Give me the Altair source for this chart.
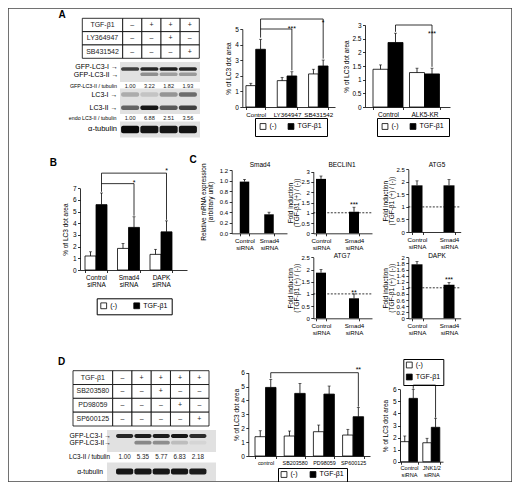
import altair as alt
import pandas as pd

W, H = 504, 474
M = 8
FONT = "Liberation Sans"
TRT = ["(-)", "TGF-β1"]
ONE = pd.DataFrame({"k": [0]})

# ---------------- data : panel A ----------------
a_table_rows = ["TGF-β1", "LY364947", "SB431542"]
a_table = [["–", "+", "+", "+"], ["–", "–", "+", "–"], ["–", "–", "–", "+"]]
a_gfp_bands = ["GFP-LC3-I", "GFP-LC3-II"]
a_gfp_level = [[0.72, 0.85, 0.9, 0.85], [0.0, 0.35, 0.28, 0.3]]
a_gfp_ratio = ["1.00", "3.22", "1.82", "1.93"]
a_lc3_bands = ["LC3-I", "LC3-II"]
a_lc3_level = [[0.22, 0.12, 0.32, 0.5], [0.55, 0.95, 0.6, 0.72]]
a_endo_ratio = ["1.00", "6.88", "2.51", "3.56"]
a_tub_bands = ["tubulin"]
a_tub_level = [[1.0, 0.96, 0.95, 0.96]]

a1_groups = ["Control", "LY364947", "SB431542"]
a1_neg = [1.37, 1.69, 2.12]
a1_neg_err = [0.15, 0.21, 0.30]
a1_pos = [3.70, 1.99, 2.63]
a1_pos_err = [0.64, 0.27, 0.38]
a1_brackets = [
    [("Control", 4.45), ("Control", 5.64), ("SB431542", 5.64), ("SB431542", 3.10)],
    [("Control", 5.00), ("LY364947", 5.00), ("LY364947", 2.35)],
]
a1_stars = [("LY364947", 5.15, "***"), ("SB431542", 5.51, "*")]

a2_groups = ["Control", "ALK5-KR"]
a2_neg = [1.38, 1.26]
a2_neg_err = [0.16, 0.16]
a2_pos = [2.36, 1.21]
a2_pos_err = [0.34, 0.21]
a2_brackets = [[("Control", 2.75), ("Control", 3.0), ("ALK5-KR", 3.0), ("ALK5-KR", 1.47)]]
a2_stars = [("ALK5-KR", 2.76, "***")]

# ---------------- data : panel B ----------------
b_groups = ["Control siRNA", "Smad4 siRNA", "DAPK siRNA"]
b_neg = [1.20, 1.85, 1.34]
b_neg_err = [0.36, 0.43, 0.43]
b_pos = [5.60, 3.65, 3.27]
b_pos_err = [1.00, 0.91, 0.94]
b_brackets = [
    [("Control siRNA", 6.7), ("Control siRNA", 8.3), ("DAPK siRNA", 8.3), ("DAPK siRNA", 4.3)],
    [("Control siRNA", 7.4), ("Smad4 siRNA", 7.4), ("Smad4 siRNA", 4.65)],
]
b_stars = [("Smad4 siRNA", 7.62, "*"), ("DAPK siRNA", 8.63, "*")]

# ---------------- data : panel C ----------------
c_groups = ["Control siRNA", "Smad4 siRNA"]
c_smad4 = [0.98, 0.36]
c_smad4_err = [0.04, 0.04]
c_beclin1 = [2.65, 1.05]
c_beclin1_err = [0.14, 0.22]
c_atg5 = [1.86, 1.86]
c_atg5_err = [0.18, 0.23]
c_atg7 = [1.87, 0.82]
c_atg7_err = [0.13, 0.18]
c_dapk = [1.77, 1.10]
c_dapk_err = [0.09, 0.07]

# ---------------- data : panel D ----------------
d_table_rows = ["TGF-β1", "SB203580", "PD98059", "SP600125"]
d_table = [["–", "+", "+", "+", "+"], ["–", "–", "+", "–", "–"],
           ["–", "–", "–", "+", "–"], ["–", "–", "–", "–", "+"]]
d_gfp_bands = ["GFP-LC3-I", "GFP-LC3-II"]
d_gfp_level = [[0.85, 0.9, 0.9, 0.95, 0.82], [0.0, 0.38, 0.35, 0.15, 0.05]]
d_ratio = ["1.00", "5.35", "5.77", "6.83", "2.18"]
d_tub_bands = ["tubulin"]
d_tub_level = [[0.95, 0.95, 0.95, 0.95, 0.92]]

d1_groups = ["control", "SB203580", "PD98059", "SP600125"]
d1_neg = [1.39, 1.44, 1.75, 1.51]
d1_neg_err = [0.43, 0.36, 0.48, 0.41]
d1_pos = [4.94, 4.51, 4.46, 2.83]
d1_pos_err = [0.58, 0.72, 0.58, 0.67]
d1_brackets = [[("control", 5.6), ("control", 6.0), ("SP600125", 6.0), ("SP600125", 3.55)]]
d1_stars = [("SP600125", 6.35, "**")]

d2_groups = ["Control siRNA", "JNK1/2 siRNA"]
d2_neg = [1.66, 1.57]
d2_neg_err = [0.47, 0.37]
d2_pos = [5.25, 2.85]
d2_pos_err = [0.75, 0.75]
d2_brackets = [[("Control siRNA", 6.05), ("Control siRNA", 6.35), ("JNK1/2 siRNA", 6.35), ("JNK1/2 siRNA", 3.65)]]
d2_stars = []


# ---------------- helpers ----------------
def P(v):
    return v - M


def band(domain, x0, x1, c0, step, w):
    n = len(domain)
    pi = 1 - w / step
    span = x1 - x0
    free = span - step * (n - pi)
    po = max(free / step / 2, 0)
    align = (c0 - w / 2 - x0) / free if free > 1e-6 else 0.5
    align = min(max(align, 0.0), 1.0)
    return alt.Scale(domain=domain, range=[P(x0), P(x1)], paddingInner=pi,
                     paddingOuter=po, align=align)


def xaxis(y0, size=6.5):
    return alt.Axis(orient="bottom", offset=P(y0) - H, title=None, labelAngle=0,
                    labelExpr="split(datum.label, ' ')", tickBand="extent",
                    labelLineHeight=size + 0.8, labelPadding=1.5, labelFontSize=size)


def label(text, x, y, size=7, align="right", weight="normal"):
    return alt.Chart(ONE).mark_text(text=text, fontSize=size, align=align, baseline="middle",
                                    fontWeight=weight, font=FONT, color="black").encode(
        x=alt.value(P(x)), y=alt.value(P(y)))


def grouped_panel(groups, neg, neg_err, pos, pos_err, *, xa, c0, step, w, y0, ytop, ymax,
                  yticks, tpad, leg, brackets, stars, xsize=6.5):
    n = len(groups)
    df = pd.DataFrame({"grp": groups + groups, "trt": [TRT[0]] * n + [TRT[1]] * n,
                       "val": neg + pos, "err": neg_err + pos_err})
    df["top"] = df["val"] + df["err"]
    xs = band(groups, xa[0], xa[1], c0, step, w)
    x = alt.X("grp:N", scale=xs, axis=xaxis(y0, xsize))
    xo = alt.XOffset("trt:N", scale=alt.Scale(domain=TRT, paddingInner=0, paddingOuter=0))
    ys = alt.Scale(domain=[0, ymax], range=[P(y0), P(ytop)], nice=False, zero=False)
    yax = alt.Axis(orient="left", offset=-P(xa[0]), values=yticks, format="~g",
                   title="% of LC3 dot area", titlePadding=tpad)
    lx, ly, direction, pad, cp = leg
    legend = alt.Legend(orient="none", legendX=P(lx), legendY=P(ly), direction=direction,
                        title=None, strokeColor="black", padding=pad, symbolType="square",
                        symbolSize=34, symbolStrokeColor="black", symbolStrokeWidth=0.8,
                        labelFont=FONT, labelFontSize=7, labelColor="black", labelOffset=3,
                        columnPadding=cp, rowPadding=1)
    bars = alt.Chart(df).mark_bar(stroke="black", strokeWidth=0.8).encode(
        x=x, xOffset=xo, y=alt.Y("val:Q", scale=ys, axis=yax),
        color=alt.Color("trt:N", scale=alt.Scale(domain=TRT, range=["white", "black"]),
                        legend=legend))
    err = alt.Chart(df).mark_rule(color="black", strokeWidth=0.8).encode(
        x=x, xOffset=xo, y=alt.Y("val:Q", scale=ys, axis=yax), y2="top:Q")
    cap = alt.Chart(df).mark_tick(orient="horizontal", size=3, thickness=0.8, color="black").encode(
        x=x, xOffset=xo, y=alt.Y("top:Q", scale=ys, axis=yax))
    layers = [bars, err, cap]
    rows = []
    for bi, br in enumerate(brackets):
        for oi, (g, v) in enumerate(br):
            rows.append({"bid": bi, "ord": oi, "grp": g, "trt": TRT[1], "val": v})
    if rows:
        layers.append(alt.Chart(pd.DataFrame(rows)).mark_line(color="black", strokeWidth=0.8).encode(
            x=x, xOffset=xo, y=alt.Y("val:Q", scale=ys, axis=yax),
            detail="bid:N", order="ord:Q"))
    if stars:
        sdf = pd.DataFrame({"grp": [s[0] for s in stars], "trt": TRT[1],
                            "val": [s[1] for s in stars], "txt": [s[2] for s in stars]})
        layers.append(alt.Chart(sdf).mark_text(fontSize=7, font=FONT, dy=2, color="black").encode(
            x=x, xOffset=xo, y=alt.Y("val:Q", scale=ys, axis=yax), text="txt:N"))
    return alt.layer(*layers)


def single_panel(groups, vals, errs, *, xa, c0, step, w, y0, ytop, ymax, yticks, fmt, ytitle,
                 tpad, name, name_x, name_y, ref=True, stars=()):
    df = pd.DataFrame({"grp": groups, "val": vals, "err": errs})
    df["top"] = df["val"] + df["err"]
    xs = band(groups, xa[0], xa[1], c0, step, w)
    x = alt.X("grp:N", scale=xs, axis=xaxis(y0, 6.2))
    ys = alt.Scale(domain=[0, ymax], range=[P(y0), P(ytop)], nice=False, zero=False)
    yax = alt.Axis(orient="left", offset=-P(xa[0]), values=yticks, format=fmt,
                   title=ytitle, titlePadding=tpad, titleLineHeight=6.8, labelFontSize=6)
    bars = alt.Chart(df).mark_bar(color="black").encode(x=x, y=alt.Y("val:Q", scale=ys, axis=yax))
    err = alt.Chart(df).mark_rule(color="black", strokeWidth=0.8).encode(
        x=x, y=alt.Y("val:Q", scale=ys, axis=yax), y2="top:Q")
    cap = alt.Chart(df).mark_tick(orient="horizontal", size=3, thickness=0.8, color="black").encode(
        x=x, y=alt.Y("top:Q", scale=ys, axis=yax))
    layers = [bars, err, cap]
    if ref:
        layers.append(alt.Chart(ONE).mark_rule(color="black", strokeWidth=0.8, strokeDash=[2, 1.5]).encode(
            y=alt.Y(datum=1, type="quantitative", scale=ys, axis=yax),
            x=alt.value(P(xa[0])), x2=alt.value(P(xa[1]))))
    if stars:
        sdf = pd.DataFrame({"grp": [s[0] for s in stars], "val": [s[1] for s in stars],
                            "txt": [s[2] for s in stars]})
        layers.append(alt.Chart(sdf).mark_text(fontSize=7, font=FONT, dy=2, color="black").encode(
            x=x, y=alt.Y("val:Q", scale=ys, axis=yax), text="txt:N"))
    layers.append(label(name, name_x, name_y, size=6.5, align="center"))
    return alt.layer(*layers)


def table(row_names, cells, *, x0, xl, x1, y0, y1, size=7):
    n_l = len(cells[0])
    lanes = [f"L{i + 1}" for i in range(n_l)]
    cdf = pd.DataFrame([{"row": r, "lane": lanes[j], "sign": cells[i][j]}
                        for i, r in enumerate(row_names) for j in range(n_l)])
    rdf = pd.DataFrame({"row": row_names})
    y = alt.Y("row:N", scale=alt.Scale(domain=row_names, range=[P(y0), P(y1)],
                                       paddingInner=0, paddingOuter=0), axis=None)
    x = alt.X("lane:N", scale=alt.Scale(domain=lanes, range=[P(xl), P(x1)],
                                        paddingInner=0, paddingOuter=0), axis=None)
    lab_box = alt.Chart(rdf).mark_rect(fill="white", stroke="black", strokeWidth=0.8).encode(
        y=y, x=alt.value(P(x0)), x2=alt.value(P(xl)))
    cell_box = alt.Chart(cdf).mark_rect(fill="white", stroke="black", strokeWidth=0.8).encode(x=x, y=y)
    lab_txt = alt.Chart(rdf).mark_text(font=FONT, fontSize=size, color="#222").encode(
        y=y, x=alt.value(P((x0 + xl) / 2)), text="row:N")
    cell_txt = alt.Chart(cdf).mark_text(font=FONT, fontSize=size, color="#222").encode(
        x=x, y=y, text="sign:N")
    return alt.layer(lab_box, cell_box, lab_txt, cell_txt)


def blot(band_names, levels, *, bx, by, lx, centers, bh, ratios=None, ratio_y=None, ratio_size=5.5):
    n_l = len(levels[0])
    lanes = [f"L{i + 1}" for i in range(n_l)]
    df = pd.DataFrame([{"band": b, "lane": lanes[j], "v": levels[i][j]}
                       for i, b in enumerate(band_names) for j in range(n_l)])
    if len(centers) > 1:
        step = (centers[-1] - centers[0]) / (len(centers) - 1)
        pi = 1 - bh / step
    else:
        pi = 0
    ys = alt.Scale(domain=band_names, range=[P(centers[0] - bh / 2), P(centers[-1] + bh / 2)],
                   paddingInner=pi, paddingOuter=0)
    xs = alt.Scale(domain=lanes, range=[P(lx[0]), P(lx[1])], paddingInner=0.06, paddingOuter=0.03)
    bg = alt.Chart(ONE).mark_rect(fill="#e1e1e1").encode(
        x=alt.value(P(bx[0])), x2=alt.value(P(bx[1])), y=alt.value(P(by[0])), y2=alt.value(P(by[1])))
    bands = alt.Chart(df).mark_rect(cornerRadius=2).encode(
        x=alt.X("lane:N", scale=xs, axis=None), y=alt.Y("band:N", scale=ys, axis=None),
        color=alt.Color("v:Q", scale=alt.Scale(domain=[0, 1], range=["#e1e1e1", "#0a0a0a"]), legend=None))
    layers = [bg, bands]
    if ratios:
        rdf = pd.DataFrame({"lane": lanes, "r": ratios})
        layers.append(alt.Chart(rdf).mark_text(font=FONT, fontSize=ratio_size, color="#222").encode(
            x=alt.X("lane:N", scale=xs, axis=None), y=alt.value(P(ratio_y)), text="r:N"))
    return alt.layer(*layers)


layers = []

# ---------------- Panel A ----------------
layers.append(label("A", 62, 15, size=10, align="center", weight="bold"))
layers.append(table(a_table_rows, a_table, x0=82.3, xl=122.7, x1=199.3, y0=18.3, y1=58.3))
layers.append(blot(a_gfp_bands, a_gfp_level, bx=(120, 200), by=(62, 82), lx=(120.5, 197.5),
                   centers=[69, 74.3], bh=3.6, ratios=a_gfp_ratio, ratio_y=85.8, ratio_size=5.6))
layers.append(blot(a_lc3_bands, a_lc3_level, bx=(120, 200), by=(88.5, 114), lx=(120.5, 197.5),
                   centers=[94.5, 107.7], bh=4.5, ratios=a_endo_ratio, ratio_y=117.6, ratio_size=5.6))
layers.append(blot(a_tub_bands, a_tub_level, bx=(120, 200), by=(121.5, 137.5), lx=(120.5, 197.5),
                   centers=[129.5], bh=7.5))
layers.append(label("GFP-LC3-I →", 118, 66.5, size=7))
layers.append(label("GFP-LC3-II →", 118.5, 74.5, size=7))
layers.append(label("GFP-LC3-II / tubulin", 117, 85.8, size=5.3))
layers.append(label("LC3-I →", 117.5, 94.5, size=7))
layers.append(label("LC3-II →", 117.5, 108, size=7))
layers.append(label("endo LC3-II / tubulin", 116.5, 117.6, size=5.3))
layers.append(label("α-tubulin", 117, 128.5, size=7.5))

layers.append(grouped_panel(a1_groups, a1_neg, a1_neg_err, a1_pos, a1_pos_err,
                            xa=(242.3, 335), c0=255.7, step=31.3, w=19.5, y0=107, ytop=29, ymax=5,
                            yticks=[0, 1, 2, 3, 4, 5], tpad=3.5, leg=(255, 118, "horizontal", 4.5, 9),
                            brackets=a1_brackets, stars=a1_stars, xsize=6.2))
layers.append(grouped_panel(a2_groups, a2_neg, a2_neg_err, a2_pos, a2_pos_err,
                            xa=(365, 450), c0=388, step=36.5, w=30, y0=107, ytop=25, ymax=3,
                            yticks=[0, 0.5, 1, 1.5, 2, 2.5, 3], tpad=2, leg=(377, 118, "horizontal", 4.5, 9),
                            brackets=a2_brackets, stars=a2_stars))

# ---------------- Panel B ----------------
layers.append(label("B", 53.3, 163.3, size=10, align="center", weight="bold"))
layers.append(grouped_panel(b_groups, b_neg, b_neg_err, b_pos, b_pos_err,
                            xa=(80, 187), c0=96, step=32.5, w=22, y0=270, ytop=188.3, ymax=7,
                            yticks=[0, 1, 2, 3, 4, 5, 6, 7], tpad=3.4, leg=(96.7, 298.3, "horizontal", 3.5, 14),
                            brackets=b_brackets, stars=b_stars))

# ---------------- Panel C ----------------
layers.append(label("C", 193, 160, size=10, align="center", weight="bold"))
fold_title = ["Fold induction", "(TGF-β1 (+) / (-))"]
layers.append(single_panel(c_groups, c_smad4, c_smad4_err, xa=(231.7, 287), c0=244.5, step=24.5, w=9.5,
                           y0=233.3, ytop=170, ymax=1.2, yticks=[0, 0.2, 0.4, 0.6, 0.8, 1.0, 1.2], fmt=".1f",
                           ytitle=["Relative mRNA expression", "(arbitrary unit)"], tpad=6,
                           name="Smad4", name_x=260, name_y=165, ref=False))
layers.append(single_panel(c_groups, c_beclin1, c_beclin1_err, xa=(313.3, 372), c0=321, step=33, w=10,
                           y0=233.3, ytop=171.7, ymax=3, yticks=[0, 0.5, 1, 1.5, 2, 2.5, 3], fmt="~g",
                           ytitle=fold_title, tpad=1, name="BECLIN1", name_x=342, name_y=165,
                           stars=[("Smad4 siRNA", 1.49, "***")]))
layers.append(single_panel(c_groups, c_atg5, c_atg5_err, xa=(408.3, 460.7), c0=417, step=32, w=11,
                           y0=232, ytop=169.3, ymax=2.5, yticks=[0, 0.5, 1, 1.5, 2, 2.5], fmt="~g",
                           ytitle=fold_title, tpad=1, name="ATG5", name_x=437, name_y=165))
layers.append(single_panel(c_groups, c_atg7, c_atg7_err, xa=(313.3, 372), c0=321, step=33, w=10,
                           y0=318.3, ytop=257.3, ymax=2.5, yticks=[0, 0.5, 1, 1.5, 2, 2.5], fmt="~g",
                           ytitle=fold_title, tpad=1, name="ATG7", name_x=342, name_y=256,
                           stars=[("Smad4 siRNA", 1.13, "**")]))
layers.append(single_panel(c_groups, c_dapk, c_dapk_err, xa=(408.3, 460.7), c0=417, step=32, w=11,
                           y0=318.3, ytop=257.3, ymax=2,
                           yticks=[0, 0.2, 0.4, 0.6, 0.8, 1, 1.2, 1.4, 1.6, 1.8, 2], fmt="~g",
                           ytitle=fold_title, tpad=1, name="DAPK", name_x=437, name_y=256,
                           stars=[("Smad4 siRNA", 1.33, "***")]))

# ---------------- Panel D ----------------
layers.append(label("D", 61.7, 361.7, size=10, align="center", weight="bold"))
layers.append(table(d_table_rows, d_table, x0=73, xl=112.7, x1=209, y0=370.7, y1=426))
layers.append(blot(d_gfp_bands, d_gfp_level, bx=(107, 216), by=(430, 452), lx=(115.5, 207),
                   centers=[436, 442.7], bh=3.8, ratios=d_ratio, ratio_y=456.7, ratio_size=6.3))
layers.append(blot(d_tub_bands, d_tub_level, bx=(107, 216), by=(462.5, 481), lx=(115.5, 207),
                   centers=[471.5], bh=6))
layers.append(label("GFP-LC3-I →", 111, 435.5, size=6.8))
layers.append(label("GFP-LC3-II→", 111, 443, size=6.8))
layers.append(label("LC3-II / tubulin", 110, 456.7, size=6.3))
layers.append(label("α-tubulin", 103, 471.5, size=6.7))

layers.append(grouped_panel(d1_groups, d1_neg, d1_neg_err, d1_pos, d1_pos_err,
                            xa=(248.3, 370), c0=265.5, step=29.2, w=21, y0=456, ytop=372.7, ymax=6,
                            yticks=[0, 1, 2, 3, 4, 5, 6], tpad=1, leg=(278, 468, "horizontal", 2.5, 10),
                            brackets=d1_brackets, stars=d1_stars, xsize=5.4))
layers.append(grouped_panel(d2_groups, d2_neg, d2_neg_err, d2_pos, d2_pos_err,
                            xa=(400, 443), c0=409, step=22.3, w=17, y0=461.7, ytop=389.3, ymax=6,
                            yticks=[0, 1, 2, 3, 4, 5, 6], tpad=3.5, leg=(403.3, 359, "vertical", 2.5, 6),
                            brackets=d2_brackets, stars=d2_stars, xsize=5.6))

chart = alt.layer(*layers).resolve_scale(
    x="independent", y="independent", xOffset="independent", color="independent"
).resolve_axis(
    x="independent", y="independent"
).resolve_legend(
    color="independent"
).properties(
    width=W, height=H, padding=0, autosize=alt.AutoSizeParams(type="none")
).configure_view(
    stroke="#444", strokeWidth=1.5
).configure_axis(
    labelFont=FONT, titleFont=FONT, labelFontSize=6.5, titleFontSize=6.5, titleFontWeight="normal",
    labelColor="black", titleColor="black", domainColor="black", tickColor="black",
    domainWidth=0.8, tickWidth=0.8, tickSize=2.5, grid=False, labelPadding=1.5
)

chart.save("out.html", embed_options={"renderer": "svg", "actions": False})
